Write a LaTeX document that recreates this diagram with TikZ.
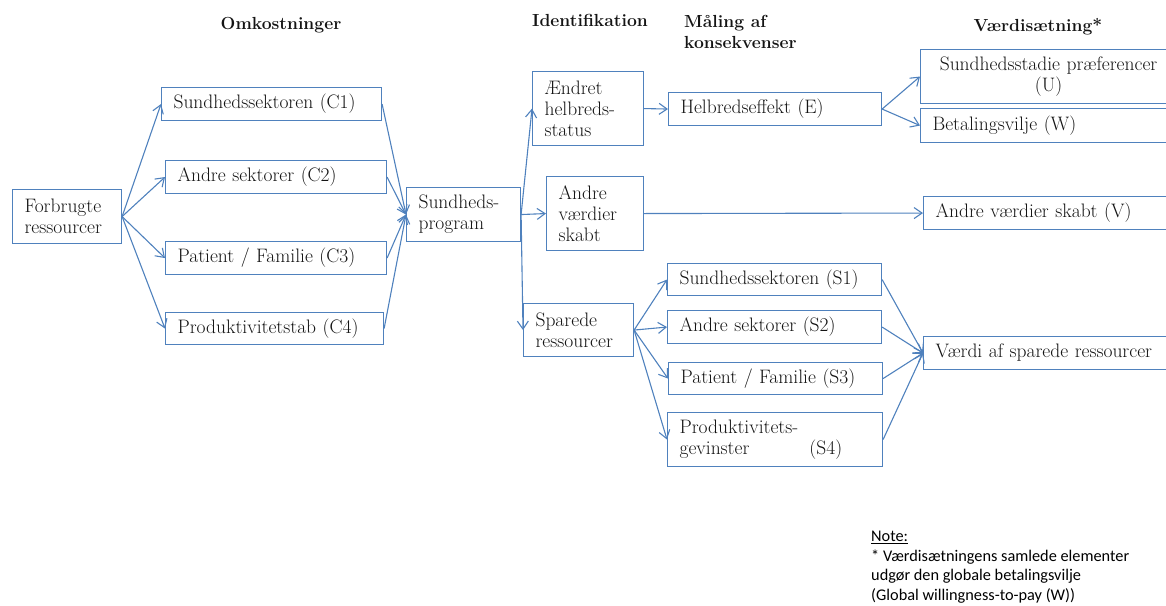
\documentclass[tikz,border=0pt]{standalone}
\usepackage{fontspec}
\newfontfamily\notefont{Carlito}
\usetikzlibrary{arrows.meta}
\definecolor{bcol}{RGB}{79,129,189}
\definecolor{tcol}{RGB}{20,20,20}
\begin{document}
\begin{tikzpicture}[x=1pt,y=-1pt,
  box/.style={draw=bcol, line width=1.1pt, fill=white, anchor=north west,
    inner xsep=12pt, inner ysep=0pt, align=left, text=tcol,
    font=\fontsize{19.5}{21}\selectfont},
  hdr/.style={font=\fontsize{17.5}{21}\selectfont\bfseries, text=tcol, inner sep=0pt},
  arr/.style={draw=bcol, line width=1.1pt, -{Straight Barb[length=8pt,width=11pt]}}]
\useasboundingbox (0,0) rectangle (1166,605);
\clip (0,0) rectangle (1166,605);

% headers
\node[hdr, anchor=base] (h1) at (281,29) {Omkostninger};
\node[hdr, anchor=base west] (h2) at (532,27) {Identifikation};
\node[hdr, anchor=north west, align=left] (h3) at (684,15) {Måling af\\konsekvenser};
\node[hdr, anchor=base] (h4) at (1038,31) {Værdisætning*};

% boxes
\node[box, text width=85pt, minimum height=54pt] (forb) at (12,189) {Forbrugte\\ressourcer};
\node[box, text width=196pt, minimum height=33pt] (c1) at (161,87) {Sundhedssektoren (C1)};
\node[box, text width=197pt, minimum height=33pt] (c2) at (165,160) {Andre sektorer (C2)};
\node[box, text width=197pt, minimum height=33pt] (c3) at (165,241) {Patient / Familie (C3)};
\node[box, text width=194pt, minimum height=32pt] (c4) at (165,312) {Produktivitetstab (C4)};
\node[box, text width=90pt, minimum height=54pt] (prog) at (406,187) {Sundheds-\\program};
\node[box, text width=87pt, minimum height=74pt] (aend) at (532,71) {Ændret\\helbreds-\\status};
\node[box, text width=73pt, minimum height=74pt] (andre) at (546,176) {Andre\\værdier\\skabt};
\node[box, text width=86pt, minimum height=53pt] (spar) at (523,303) {Sparede\\ressourcer};
\node[box, text width=189pt, minimum height=33pt] (helb) at (668,92) {Helbredseffekt (E)};
\node[box, text width=232pt, minimum height=54pt, align=center] (uu) at (920,49) {Sundhedsstadie præferencer\\(U)};
\node[box, text width=232pt, minimum height=34pt] (ww) at (920,108) {Betalingsvilje (W)};
\node[box, text width=229pt, minimum height=33pt] (vv) at (923,196) {Andre værdier skabt (V)};
\node[box, text width=229pt, minimum height=33pt] (vaerdi) at (923,336) {Værdi af sparede ressourcer};
\node[box, text width=190pt, minimum height=32pt] (s1) at (667,263) {Sundhedssektoren (S1)};
\node[box, text width=190pt, minimum height=33pt] (s2) at (667,310) {Andre sektorer (S2)};
\node[box, text width=190pt, minimum height=32pt] (s3) at (668,362) {Patient / Familie (S3)};
\node[box, text width=191pt, minimum height=54pt] (s4) at (667,412) {Produktivitets-\\gevinster\hspace*{60pt}(S4)};

% connectors
\foreach \c in {c1,c2,c3,c4} {
  \draw[arr] (forb.east) -- (\c.west);
  \draw[arr] (\c.east) -- (prog.west);
}
\draw[arr] (prog.east) -- (aend.west);
\draw[arr] (prog.east) -- (andre.west);
\draw[arr] (prog.east) -- (spar.west);
\draw[arr] (aend.east) -- (helb.west);
\draw[arr] (helb.east) -- (uu.west);
\draw[arr] (helb.east) -- (ww.west);
\draw[arr] (andre.east) -- (vv.west);
\foreach \s in {s1,s2,s3,s4} {
  \draw[arr] (spar.east) -- (\s.west);
  \draw[arr] (\s.east) -- (vaerdi.west);
}

% note
\node[anchor=north west, align=left, inner sep=0pt, text=black,
  font=\notefont\fontsize{16.3}{19.5}\selectfont] (note) at (871,531)
  {\underline{Note:}\\* Værdisætningens samlede elementer\\udgør den globale betalingsvilje\\(Global willingness-to-pay (W))};
\end{tikzpicture}
\end{document}
